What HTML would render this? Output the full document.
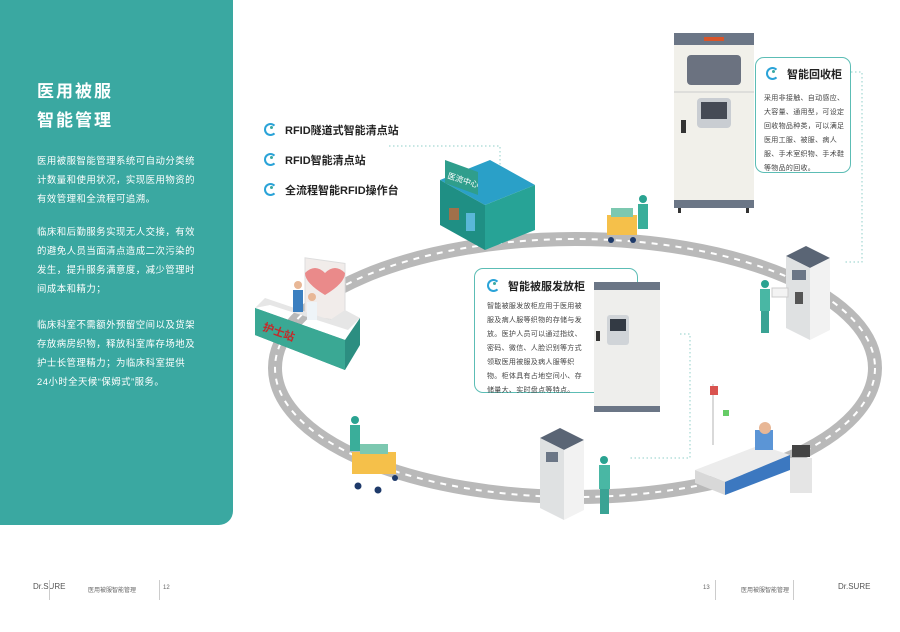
<!DOCTYPE html>
<html><head><meta charset="utf-8">
<style>
html,body{margin:0;padding:0;background:#fff;}
body{width:900px;height:632px;position:relative;overflow:hidden;font-family:"Liberation Sans","Noto Sans CJK SC",sans-serif;}
.panel{position:absolute;left:0;top:0;width:233px;height:525px;background:#3aa8a1;border-bottom-right-radius:14px;}
.t1{position:absolute;left:37px;top:77px;color:#fff;font-size:17px;font-weight:bold;line-height:29px;letter-spacing:2px;}
.p{position:absolute;left:37px;color:#fff;font-size:9.4px;line-height:19px;letter-spacing:0.5px;width:162px;}
.card{position:absolute;border:1.5px solid #5cbdb5;border-radius:9px;background:#fff;}
.ct{font-size:11px;font-weight:bold;color:#222;white-space:nowrap;}
.cp{font-size:7px;color:#444;line-height:14px;letter-spacing:0.3px;}
.ic{display:inline-block;width:9px;height:9px;border:2px solid #2aa3d8;border-right-color:transparent;border-radius:50%;vertical-align:-2px;margin-right:8px;position:relative;}
.ic:after{content:"";position:absolute;left:4px;top:1px;width:3px;height:3px;background:#3aa8a1;border-radius:50%;}
.li{position:absolute;left:264px;font-size:11px;font-weight:bold;color:#222;}
.ft{position:absolute;top:585px;font-size:6px;color:#666;}
</style></head><body>
<div class="panel"></div>
<div class="t1">医用被服<br>智能管理</div>
<div class="p" style="top:151px">医用被服智能管理系统可自动分类统计数量和使用状况，实现医用物资的有效管理和全流程可追溯。</div>
<div class="p" style="top:222px">临床和后勤服务实现无人交接，有效的避免人员当面清点造成二次污染的发生，提升服务满意度，减少管理时间成本和精力；</div>
<div class="p" style="top:315px">临床科室不需额外预留空间以及货架存放病房织物，释放科室库存场地及护士长管理精力；为临床科室提供 24小时全天候“保姆式”服务。</div>

<svg width="900" height="632" style="position:absolute;left:0;top:0">
<g stroke="#8fcfc8" stroke-width="1" stroke-dasharray="1.5,2.5" fill="none">
<polyline points="389,146 500,146 500,180"/>
<polyline points="851,72 862,72 862,262 845,262"/>
<polyline points="680,334 690,334 690,458 630,458"/>
</g>
<ellipse cx="575" cy="368" rx="300" ry="129" fill="none" stroke="#b9b9b9" stroke-width="14"/>
<ellipse cx="575" cy="368" rx="300" ry="129" fill="none" stroke="#fff" stroke-width="2" stroke-dasharray="6,6"/>
<g>
<polygon points="440,180 490,160 535,185 485,205" fill="#2aa0c8"/>
<polygon points="440,180 485,205 485,250 440,225" fill="#1f8f84"/>
<polygon points="485,205 535,185 535,230 485,250" fill="#27a396"/>
<polygon points="445,160 478,172 478,195 445,183" fill="#2f9e8c"/>
<text x="447" y="178" font-size="8" fill="#fff" transform="rotate(18 447 178)">医流中心</text>
<rect x="449" y="208" width="10" height="12" fill="#a0704a"/>
<rect x="466" y="213" width="9" height="18" fill="#5ab7d8"/>
</g>
<g><rect x="607" y="215" width="30" height="20" fill="#f5c04a"/><rect x="611" y="208" width="22" height="9" fill="#7cc8b0"/><circle cx="643" cy="199" r="4" fill="#2aa391"/><rect x="638" y="204" width="10" height="25" fill="#3aae9a"/><circle cx="611" cy="240" r="3" fill="#1e3a6a"/><circle cx="633" cy="240" r="3" fill="#1e3a6a"/></g>
<g>
<rect x="674" y="33" width="80" height="175" fill="#f1f0ea"/>
<rect x="674" y="33" width="80" height="12" fill="#6b7686"/>
<rect x="704" y="37" width="20" height="4" fill="#d8552a"/>
<rect x="687" y="55" width="54" height="30" rx="4" fill="#6b7280"/>
<line x1="674" y1="92" x2="754" y2="92" stroke="#ccc"/>
<rect x="697" y="98" width="34" height="30" rx="4" fill="#c9cdd2"/>
<rect x="701" y="102" width="26" height="17" fill="#454a55"/>
<rect x="681" y="120" width="5" height="13" fill="#333"/>
<rect x="674" y="200" width="80" height="8" fill="#6b7686"/>
<rect x="678" y="208" width="3" height="5" fill="#333"/><rect x="746" y="208" width="3" height="5" fill="#333"/>
</g>
<g>
<polygon points="786,256 806,246 830,258 810,268" fill="#5a6575"/>
<polygon points="786,256 810,268 810,340 786,328" fill="#dfe1e2"/>
<polygon points="810,268 830,258 830,330 810,340" fill="#f2f2f2"/>
<rect x="792" y="270" width="14" height="10" fill="#6b7686"/>
<rect x="795" y="292" width="8" height="12" fill="#555"/>
<circle cx="765" cy="284" r="4" fill="#2aa391"/><rect x="760" y="289" width="10" height="22" fill="#49b7a4"/><rect x="761" y="311" width="8" height="22" fill="#3aa394"/>
<rect x="772" y="288" width="16" height="9" fill="#f3f3f3" stroke="#ccc"/>
</g>
<g>
<polygon points="540,438 560,428 584,440 564,450" fill="#5a6575"/>
<polygon points="540,438 564,450 564,520 540,508" fill="#dfe1e2"/>
<polygon points="564,450 584,440 584,510 564,520" fill="#f2f2f2"/>
<rect x="546" y="452" width="12" height="10" fill="#6b7686"/>
<circle cx="604" cy="460" r="4" fill="#2aa391"/><rect x="599" y="465" width="11" height="24" fill="#49b7a4"/><rect x="600" y="489" width="9" height="25" fill="#3aa394"/>
</g>
<g><circle cx="355" cy="420" r="4" fill="#2aa391"/><rect x="350" y="425" width="10" height="26" fill="#3aae9a"/><rect x="352" y="452" width="44" height="22" fill="#f5c04a"/><rect x="360" y="444" width="28" height="10" fill="#7cc8b0"/><circle cx="358" cy="486" r="3.5" fill="#1e3a6a"/><circle cx="378" cy="490" r="3.5" fill="#1e3a6a"/><circle cx="395" cy="478" r="3" fill="#1e3a6a"/></g>
<g>
<rect x="305" y="255" width="40" height="58" fill="#f1ecea" stroke="#ddd" transform="skewY(8) translate(0,-40)"/>
<path d="M310 268 q10 -10 20 0 q10 -10 20 0 q0 10 -20 22 q-20 -12 -20 -22z" fill="#ea8a8a" transform="translate(-5,5)"/>
<polygon points="255,308 265,298 330,320 345,310 360,318 348,330 270,305" fill="#e6e6e6"/>
<polygon points="255,308 345,340 360,318 360,345 345,370 255,335" fill="#2c8e81"/>
<polygon points="255,308 345,340 345,370 255,335" fill="#3aa894"/>
<text x="262" y="330" font-size="11" font-weight="bold" fill="#c62828" transform="rotate(20 262 330)">护士站</text>
<rect x="293" y="290" width="10" height="22" fill="#3b7fc0"/><circle cx="298" cy="285" r="4" fill="#e8b796"/>
<rect x="307" y="302" width="10" height="18" fill="#eef4f8"/><circle cx="312" cy="297" r="4" fill="#e8b796"/>
</g>
<g>
<line x1="713" y1="384" x2="713" y2="445" stroke="#ccc" stroke-width="1.5"/>
<rect x="710" y="386" width="8" height="9" fill="#d9534f"/>
<rect x="723" y="410" width="6" height="6" fill="#6c6"/>
<polygon points="695,470 760,445 790,455 725,482" fill="#ececec"/>
<polygon points="695,470 725,482 725,495 695,483" fill="#d8d8d8"/>
<polygon points="725,482 790,455 790,470 725,495" fill="#3c78c0"/>
<rect x="755" y="430" width="18" height="20" fill="#5b95d6"/><circle cx="765" cy="428" r="6" fill="#e8b796"/>
<rect x="792" y="445" width="18" height="12" fill="#444"/><rect x="790" y="458" width="22" height="35" fill="#e5e5e5"/>
</g>
</svg>

<div class="li" style="top:122px"><span class="ic"></span>RFID隧道式智能清点站</div>
<div class="li" style="top:152px"><span class="ic"></span>RFID智能清点站</div>
<div class="li" style="top:182px"><span class="ic"></span>全流程智能RFID操作台</div>

<div class="card" style="left:755px;top:57px;width:94px;height:114px;">
 <div class="ct" style="position:absolute;left:10px;top:8px;"><span class="ic"></span>智能回收柜</div>
 <div class="cp" style="position:absolute;left:8px;top:34px;width:82px;">采用非接触、自动感应、大容量、通用型，可设定回收物品种类，可以满足医用工服、被服、病人服、手术室织物、手术鞋等物品的回收。</div>
</div>
<div class="card" style="left:474px;top:268px;width:162px;height:123px;">
 <div class="ct" style="position:absolute;left:12px;top:9px;"><span class="ic"></span>智能被服发放柜</div>
 <div class="cp" style="position:absolute;left:12px;top:31px;width:100px;">智能被服发放柜应用于医用被服及病人服等织物的存储与发放。医护人员可以通过指纹、密码、微信、人脸识别等方式领取医用被服及病人服等织物。柜体具有占地空间小、存储量大、实时盘点等特点。</div>
</div>
<div style="position:absolute;left:594px;top:282px;width:66px;height:130px;background:#eeeeec;border-top:8px solid #6b7686;border-bottom:6px solid #6b7686;box-sizing:border-box;">
 <div style="position:absolute;left:13px;top:25px;width:22px;height:30px;background:#d0d4d8;border-radius:3px"><div style="margin:4px 3px;height:12px;background:#333a44"></div></div>
 <div style="position:absolute;left:2px;top:41px;width:4px;height:10px;background:#333"></div>
</div>

<div class="ft" style="left:33px;top:582px;font-size:8px;color:#555">Dr.SURE</div>
<div style="position:absolute;left:49px;top:580px;width:1px;height:20px;background:#ccc"></div>
<div class="ft" style="left:88px">医用被服智能管理</div>
<div style="position:absolute;left:159px;top:580px;width:1px;height:20px;background:#ccc"></div>
<div class="ft" style="left:163px">12</div>
<div class="ft" style="left:703px">13</div>
<div style="position:absolute;left:715px;top:580px;width:1px;height:20px;background:#ccc"></div>
<div class="ft" style="left:741px">医用被服智能管理</div>
<div style="position:absolute;left:793px;top:580px;width:1px;height:20px;background:#ccc"></div>
<div class="ft" style="left:838px;top:582px;font-size:8px;color:#555">Dr.SURE</div>
</body></html>
